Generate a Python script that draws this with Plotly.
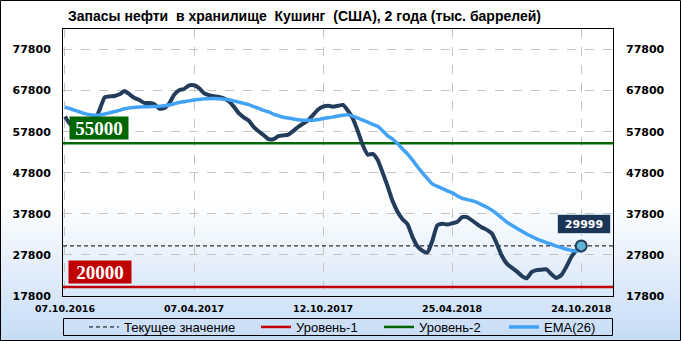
import plotly.graph_objects as go

# ---------------- data ----------------
date_labels = ["07.10.2016", "07.04.2017", "12.10.2017", "25.04.2018", "24.10.2018"]
date_label_idx = [0, 26, 52, 78, 104]

stock = [
    61500, 59700, 58800, 58300, 58100, 58600, 60500, 63200, 66200, 66400,
    66500, 66900, 67700, 66900, 66000, 65500, 64800, 64800, 64500, 63400,
    63500, 64700, 66800, 67900, 68200, 69100, 69100, 68400, 67200, 66700,
    66450, 66250, 65900, 65200, 63900, 62300, 61300, 60500, 59000, 57900,
    57000, 56000, 55950, 56700, 56900, 57100, 58000, 59000, 59800, 60600,
    61900, 63200, 63900, 64100, 63900, 64100, 64300, 62900, 61000, 57900,
    54500, 52200, 52400, 50900, 47800, 44500, 40900, 38300, 36500, 35300,
    32200, 29900, 28800, 28400, 31200, 35000, 35400, 35200, 35500, 35800,
    37000, 37000, 36200, 35300, 34500, 33900, 33000, 30500, 27600, 25700,
    24700, 23800, 22700, 22100, 23600, 24100, 24200, 24300, 23100, 22200,
    22900, 24900, 27300, 28900, 29999,
]

ema26 = [
    63800, 63400, 63000, 62600, 62200, 61900, 61800, 61850, 62100, 62400,
    62700, 63000, 63400, 63600, 63700, 63800, 63850, 63900, 63950, 64000,
    64100, 64300, 64600, 64900, 65100, 65300, 65500, 65650, 65800, 65850,
    65900, 65800, 65700, 65600, 65300, 65000, 64700, 64400, 63900, 63500,
    63000, 62600, 62100, 61700, 61300, 61140, 60900, 60700, 60600, 60560,
    60600, 60750, 61000, 61200, 61380, 61600, 61800, 61950, 61600, 61100,
    60600, 60100, 59600, 59100, 58000, 56800, 56000, 54900, 53600, 52400,
    50900, 49300, 47800, 46400, 45100, 44500, 44000, 43400, 42900, 42200,
    41600, 41300, 41000, 40600, 40000, 39400, 38700, 37800, 36800, 35800,
    35000, 34300, 33600, 32900, 32300, 31700, 31250, 30800, 30400, 29950,
    29600, 29200, 28900, 28800, 28800,
]

current_value = 29999
level1 = 20000
level2 = 55000
y_ticks = [17800, 27800, 37800, 47800, 57800, 67800, 77800]

title_text = "Запасы нефти\u00a0 в хранилище\u00a0 Кушинг\u00a0 (США), 2 года (тыс. баррелей)"

# ---------------- layout constants ----------------
W, H = 681, 341
ML, MR, MT, MB = 63, 68, 29, 45
PW, PH = W - ML - MR, H - MT - MB
X_MIN, X_MAX = -0.4, 110.4
Y_MIN, Y_MAX = 17800, 82800

def px_x(p):
    return (p - ML) / PW

def px_y(p):
    return (H - MB - p) / PH

idx = list(range(len(stock)))
last_i = idx[-1]

DARK = "#243c5c"
EMA_C = "#42a2f5"
GREEN = "#006600"
RED = "#c00000"

fig = go.Figure()

# level / current lines (legend entries)
fig.add_trace(go.Scatter(x=[X_MIN, X_MAX], y=[current_value, current_value], mode="lines",
                         line=dict(color="black", width=1, dash="4px,3px"),
                         name="Текущее значение", legend="legend", hoverinfo="skip"))
fig.add_trace(go.Scatter(x=[X_MIN, X_MAX], y=[level1, level1], mode="lines",
                         line=dict(color=RED, width=2.5),
                         name="Уровень-1", legend="legend2", hoverinfo="skip"))
fig.add_trace(go.Scatter(x=[X_MIN, X_MAX], y=[level2, level2], mode="lines",
                         line=dict(color=GREEN, width=2.5),
                         name="Уровень-2", legend="legend3", hoverinfo="skip"))
# main series
fig.add_trace(go.Scatter(x=idx, y=stock, mode="lines",
                         line=dict(color=DARK, width=4, shape="spline", smoothing=0.5),
                         showlegend=False, name="Кушинг"))
fig.add_trace(go.Scatter(x=idx, y=ema26, mode="lines",
                         line=dict(color=EMA_C, width=3.5, shape="spline", smoothing=0.6),
                         name="EMA(26)", legend="legend4"))
# last point marker
fig.add_trace(go.Scatter(x=[last_i], y=[stock[-1]], mode="markers",
                         marker=dict(size=11, color="#5fb5d3", line=dict(color=DARK, width=2)),
                         showlegend=False, hoverinfo="skip"))
# right axis carrier
fig.add_trace(go.Scatter(x=[last_i], y=[stock[-1]], mode="markers", yaxis="y2",
                         marker=dict(size=1, opacity=0), showlegend=False, hoverinfo="skip"))

shapes = []
# background gradient (white -> light blue)
top_c = (255, 255, 255)
bot_c = (198, 220, 246)
N = 28
g0, g1 = 200, 341
for k in range(N):
    t = (k + 0.5) / N
    c = tuple(int(round(top_c[j] + (bot_c[j] - top_c[j]) * t)) for j in range(3))
    y0p = g0 + (g1 - g0) * k / N
    y1p = g0 + (g1 - g0) * (k + 1) / N + 0.6
    shapes.append(dict(type="rect", xref="paper", yref="paper", layer="below",
                       x0=px_x(0), x1=px_x(W), y0=px_y(y1p), y1=px_y(y0p),
                       line=dict(width=0), fillcolor="rgb(%d,%d,%d)" % c))
# outer border
shapes.append(dict(type="rect", xref="paper", yref="paper", layer="above",
                   x0=px_x(0.5), x1=px_x(W - 0.5), y0=px_y(H - 0.5), y1=px_y(0.5),
                   line=dict(color="black", width=1), fillcolor="rgba(0,0,0,0)"))
# legend frame
shapes.append(dict(type="rect", xref="paper", yref="paper", layer="above",
                   x0=px_x(63.5), x1=px_x(612.5), y0=px_y(335.5), y1=px_y(318.5),
                   line=dict(color="black", width=1), fillcolor="rgba(0,0,0,0)"))

annotations = [
    dict(text="<b>55000</b>", xref="paper", yref="y", x=px_x(99), y=level2, yshift=15,
         xanchor="center", yanchor="middle", showarrow=False,
         font=dict(family="Liberation Serif, DejaVu Serif, serif", size=19, color="white"),
         bgcolor=GREEN, width=56, height=20, borderpad=1),
    dict(text="<b>20000</b>", xref="paper", yref="y", x=px_x(99.5), y=level1, yshift=15,
         xanchor="center", yanchor="middle", showarrow=False,
         font=dict(family="Liberation Serif, DejaVu Serif, serif", size=19, color="white"),
         bgcolor=RED, width=60, height=20, borderpad=1),
    dict(text="<b>%d</b>" % current_value, xref="x", yref="y", x=last_i, y=current_value,
         xshift=3, yshift=22, xanchor="center", yanchor="middle", showarrow=False,
         font=dict(family="DejaVu Sans, Verdana, sans-serif", size=11, color="white"),
         bgcolor="#1b3558", bordercolor="#c8d4e4", borderwidth=1, width=50, height=16, borderpad=1),
]

tick_font = dict(family="DejaVu Sans, Verdana, sans-serif", size=11, color="black", weight="bold")
grid_kw = dict(showgrid=True, gridcolor="#c4c4c4", griddash="dash", gridwidth=1)

legend_common = dict(orientation="h", bgcolor="rgba(0,0,0,0)", borderwidth=0,
                     xanchor="left", yanchor="middle", y=px_y(327),
                     font=dict(family="Liberation Sans Narrow, Liberation Sans, Arial, sans-serif",
                               size=13, color="black"),
                     itemclick=False, itemdoubleclick=False)

fig.update_layout(
    width=W, height=H,
    margin=dict(l=ML, r=MR, t=MT, b=MB, autoexpand=False),
    paper_bgcolor="white", plot_bgcolor="rgba(0,0,0,0)",
    title=dict(text="<b>" + title_text + "</b>", x=68 / W, xanchor="left", xref="container",
               y=1 - 16 / H, yanchor="middle", yref="container",
               font=dict(family="Liberation Sans Narrow, Liberation Sans, Arial, sans-serif",
                         size=14, color="black")),
    xaxis=dict(range=[X_MIN, X_MAX], tickvals=date_label_idx, ticktext=date_labels,
               tickfont=dict(family="DejaVu Sans, Verdana, sans-serif", size=9.5,
                             color="black", weight="bold"),
               ticks="", ticklabelstandoff=4,
               showline=True, linecolor="black", linewidth=1, mirror=True,
               zeroline=False, fixedrange=True, **grid_kw),
    yaxis=dict(range=[Y_MIN, Y_MAX], tickvals=y_ticks, ticktext=[str(v) for v in y_ticks],
               tickfont=tick_font, ticks="", ticklabelstandoff=9,
               showline=True, linecolor="black", linewidth=1, mirror=True,
               zeroline=False, fixedrange=True, **grid_kw),
    yaxis2=dict(range=[Y_MIN, Y_MAX], tickvals=y_ticks, ticktext=[str(v) for v in y_ticks],
                overlaying="y", side="right", tickfont=tick_font, ticks="",
                ticklabelstandoff=12, showgrid=False, zeroline=False, showline=False,
                fixedrange=True),
    legend=dict(x=px_x(84), **legend_common),
    legend2=dict(x=px_x(256), **legend_common),
    legend3=dict(x=px_x(379), **legend_common),
    legend4=dict(x=px_x(504), **legend_common),
    shapes=shapes,
    annotations=annotations,
    showlegend=True,
    hovermode=False,
)

fig.write_html("out.html", config=dict(displayModeBar=False, staticPlot=True))
